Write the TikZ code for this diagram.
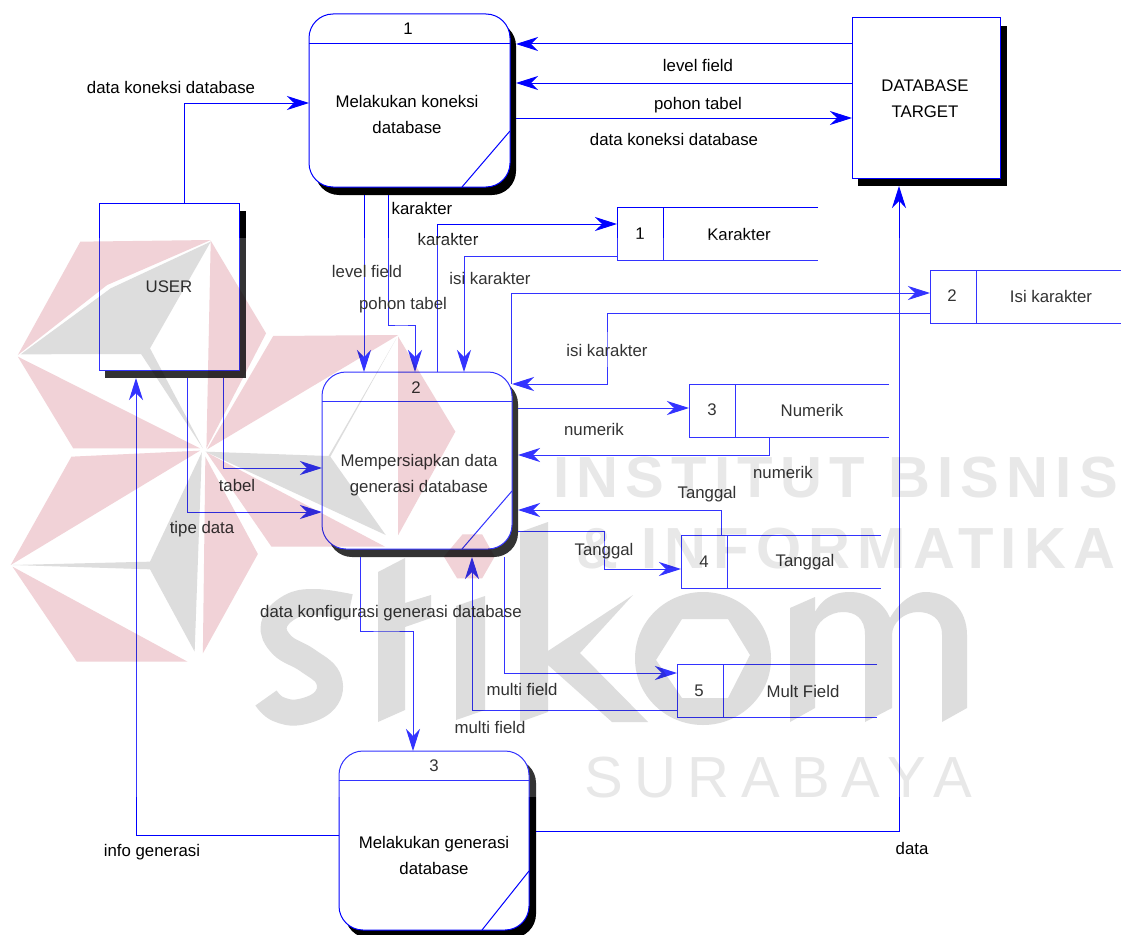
\documentclass[tikz,border=0pt]{standalone}
\usepackage{fontspec}
\setmainfont{Liberation Sans}
\newfontfamily\wmbold[LetterSpace=12.5]{Liberation Sans Bold}
\newfontfamily\wmreg[LetterSpace=20]{Liberation Sans}
\usetikzlibrary{arrows.meta}
\definecolor{flowblue}{RGB}{0,0,255}
\definecolor{wmred}{RGB}{241,210,215}
\definecolor{wmgray}{RGB}{221,221,221}
\definecolor{wmtext}{RGB}{232,232,232}
\newcommand{\lblfont}{\fontsize{16.8}{26}\selectfont}
\tikzset{
  x=1pt,y=-1pt,
  every node/.style={inner sep=0pt,outer sep=0pt},
  sz/.style 2 args={minimum width=#1pt,minimum height=#2pt},
  proc/.style={draw=flowblue,fill=white,line width=1pt,rounded corners=24pt},
  procshadow/.style={fill=black,rounded corners=24pt},
  extbox/.style={draw=flowblue,fill=white,line width=1pt},
  extshadow/.style={fill=black},
  storebox/.style={fill=white},
  partline/.style={draw=flowblue,line width=1pt},
  flow/.style={draw=flowblue,line width=1pt,-{Stealth[length=22pt,width=14pt,inset=7pt]}},
  lbl/.style={font=\lblfont,align=center,text=black},
  wm/.style={blend mode=multiply}
}
\begin{document}
\begin{tikzpicture}
\useasboundingbox (0,0) rectangle (1121,934);
\clip (0,0) rectangle (1121,934);
\fill[white] (0,0) rectangle (1121,934);

% shadows
\node[procshadow,sz={201}{173}] (p1s) at (415.5,108.5) {};
\node[procshadow,sz={190}{177}] (p2s) at (423,468.5) {};
\node[procshadow,sz={191}{179}] (p3s) at (440.5,848.5) {};
\node[extshadow,sz={141}{167}] (us) at (175.5,294.5) {};
\node[extshadow,sz={149}{160}] (ds) at (932.5,106) {};

% stores (white grounds)
\node[storebox,sz={201}{53}] (s1) at (717.5,233.5) {};
\node[storebox,sz={191}{53}] (s2) at (1025.5,296.5) {};
\node[storebox,sz={200}{53}] (s3) at (789,410.5) {};
\node[storebox,sz={200}{53}] (s4) at (781,561.5) {};
\node[storebox,sz={200}{53}] (s5) at (777,690.5) {};

% boxes
\node[proc,sz={201}{173}] (p1) at (409.5,100.5) {};
\node[proc,sz={190}{177}] (p2) at (417,460.5) {};
\node[proc,sz={190}{179}] (p3) at (434,840.5) {};
\node[extbox,sz={140}{167}] (user) at (169,286.5) {};
\node[extbox,sz={148}{160}] (db) at (926,98) {};

% process partitions
\draw[partline] (p1.west |- 0,44) -- (p1.east |- 0,44);
\draw[partline] (p2.west |- 0,401) -- (p2.east |- 0,401);
\draw[partline] (p3.west |- 0,780) -- (p3.east |- 0,780);
\draw[partline] (p1.south -| 462,0) -- (p1.east |- 0,131);
\draw[partline] (p2.south -| 462,0) -- (p2.east |- 0,491);
\draw[partline] (p3.south -| 482,0) -- (p3.east |- 0,871);

% store outlines
\draw[partline] (s1.north east) -- (s1.north west) -- (s1.south west) -- (s1.south east);
\draw[partline] (s1.north -| 663,0) -- (s1.south -| 663,0);
\draw[partline] (s2.north east) -- (s2.north west) -- (s2.south west) -- (s2.south east);
\draw[partline] (s2.north -| 976,0) -- (s2.south -| 976,0);
\draw[partline] (s3.north east) -- (s3.north west) -- (s3.south west) -- (s3.south east);
\draw[partline] (s3.north -| 735,0) -- (s3.south -| 735,0);
\draw[partline] (s4.north east) -- (s4.north west) -- (s4.south west) -- (s4.south east);
\draw[partline] (s4.north -| 727,0) -- (s4.south -| 727,0);
\draw[partline] (s5.north east) -- (s5.north west) -- (s5.south west) -- (s5.south east);
\draw[partline] (s5.north -| 723,0) -- (s5.south -| 723,0);

% connectors
\draw[flow] (user.north -| 184,0) |- (p1.west |- 0,103);
\draw[flow] (db.west |- 0,44) -- (p1s.east |- 0,44);
\draw[flow] (db.west |- 0,83) -- (p1s.east |- 0,83);
\draw[flow] (p1s.east |- 0,118) -- (db.west |- 0,118);
\draw[flow] (p1s.south -| 364,0) -- (p2.north -| 364,0);
\draw[flow] (p1s.south -| 388,0) |- (401,325) -| (p2.north -| 415,0);
\draw[flow] (p2.north -| 437.5,0) |- (s1.west |- 0,224);
\draw[flow] (s1.west |- 0,256) -| (p2.north -| 464,0);
\draw[flow] (p2.east |- 0,384) ++(-1,0) |- (s2.west |- 0,293);
\draw[flow] (s2.west |- 0,313) -| (607,350) |- (p2.east |- 0,384);
\draw[flow] (p2s.east |- 0,408) -- (s3.west |- 0,408);
\draw[flow] (s3.south -| 769,0) |- (p2s.east |- 0,455);
\draw[flow] (s4.north -| 721,0) |- (p2s.east |- 0,510);
\draw[flow] (p2s.east |- 0,531) -| (604,550) |- (s4.west |- 0,569);
\draw[flow] (p2s.south -| 504,0) |- (s5.west |- 0,673);
\draw[flow] (s5.west |- 0,710) -| (p2s.south -| 472,0);
\draw[flow] (p2s.south -| 360,0) |- (386,631) -| (p3.north -| 413,0);
\draw[flow] (us.south -| 187,0) |- (p2.west |- 0,512);
\draw[flow] (us.south -| 223,0) |- (p2.west |- 0,468);
\draw[flow] (p3.west |- 0,835) -| (us.south -| 136,0);
\draw[flow] (p3s.east |- 0,831) -| (ds.south -| 899,0);

% box texts
\node[lbl] (t1n) at (408,29) {1};
\node[lbl] (t1) at (407,114) {Melakukan koneksi\\database};
\node[lbl] (t2n) at (416,388) {2};
\node[lbl] (t2) at (419,475) {Mempersiapkan data\\generasi database};
\node[lbl] (t3n) at (434,766) {3};
\node[lbl] (t3) at (434,855) {Melakukan generasi\\database};
\node[lbl] (tu) at (169,287) {USER};
\node[lbl] (td) at (925,99) {DATABASE\\TARGET};
\node[lbl] (n1) at (640,234) {1};
\node[lbl] (k1) at (739,234) {Karakter};
\node[lbl] (n2) at (952,296) {2};
\node[lbl] (k2) at (1051,296) {Isi karakter};
\node[lbl] (n3) at (712,410) {3};
\node[lbl] (k3) at (812,410) {Numerik};
\node[lbl] (n4) at (704,562) {4};
\node[lbl] (k4) at (805,562) {Tanggal};
\node[lbl] (n5) at (699,691) {5};
\node[lbl] (k5) at (803,691) {Mult Field};

% flow labels
\node[lbl] (a1) at (171,87) {data koneksi database};
\node[lbl] (a2) at (698,65) {level field};
\node[lbl] (a3) at (698,105) {pohon tabel};
\node[lbl] (a4) at (674,139) {data koneksi database};
\node[lbl] (a5) at (367,271) {level field};
\node[lbl] (a6) at (403,305) {pohon tabel};
\node[lbl] (a7) at (422,208) {karakter};
\node[lbl] (a8) at (448,239) {karakter};
\node[lbl] (a9) at (490,278) {isi karakter};
\node[lbl] (a10) at (607,350) {isi karakter};
\node[lbl] (a11) at (594,429) {numerik};
\node[lbl] (a12) at (783,472) {numerik};
\node[lbl] (a13) at (707,494) {Tanggal};
\node[lbl] (a14) at (604,551) {Tanggal};
\node[lbl] (a15) at (391,613) {data konfigurasi generasi database};
\node[lbl] (a16) at (522,689) {multi field};
\node[lbl] (a17) at (490,727) {multi field};
\node[lbl] (a18) at (237,485) {tabel};
\node[lbl] (a19) at (202,529) {tipe data};
\node[lbl] (a20) at (152,852) {info generasi};
\node[lbl] (a21) at (912,848) {data};

% watermark veil
\fill[white,opacity=.2] (0,238) rectangle (1121,797);

% watermark logo
\begin{scope}[wm]
  \begin{scope}[shift={(0,200)},x=0.35714pt,y=-0.33333pt]
    \fill[wmred] (225,125) -- (590,120) -- (300,255) -- (50,465) -- cycle;
    \fill[wmred] (50,470) -- (560,745) -- (205,745) -- cycle;
    \fill[wmred] (590,122) -- (745,400) -- (578,745) -- cycle;
    \fill[wmred] (765,408) -- (1115,405) -- (580,748) -- cycle;
    \fill[wmred] (1115,410) -- (1275,695) -- (1115,1005) -- cycle;
    \fill[wmred] (578,757) -- (1078,1040) -- (760,1040) -- cycle;
    \fill[wmred] (575,770) -- (722,1062) -- (568,1360) -- cycle;
    \fill[wmred] (200,770) -- (560,752) -- (30,1095) -- cycle;
    \fill[wmred] (35,1100) -- (525,1385) -- (215,1385) -- cycle;
    \fill[wmred] (1295,1003) -- (1350,1003) -- (1385,1070) -- (1350,1135) -- (1280,1135) -- (1243,1070) -- cycle;
    \fill[wmgray] (590,125) -- (420,445) -- (568,745) -- (395,462) -- (58,463) -- (310,265) -- cycle;
    \fill[wmgray] (575,755) -- (920,768) -- (1110,415) -- (925,770) -- (1080,1005) -- cycle;
    \fill[wmgray] (565,757) -- (420,1085) -- (35,1095) -- (420,1108) -- (545,1355) -- cycle;
  \end{scope}
  % s
  \draw[wmgray,line width=26pt] plot[smooth,tension=.7] coordinates {(350,607) (315,602) (290,607) (274,625) (282,645) (307,660) (328,678) (325,700) (300,712) (278,709) (266,698)};
  % t
  \fill[wmgray] (378,572) -- (405,558) -- (405,603) -- (431,595) -- (431,618) -- (405,627) -- (405,710) -- (378,722) -- cycle;
  % i
  \fill[wmgray] (456,606) -- (485,596) -- (485,710) -- (456,720) -- cycle;
  % k
  \fill[wmgray] (520,532) -- (548,522) -- (548,651) -- (633,595) -- (580,653) -- (648,722) -- (612,722) -- (548,665) -- (548,712) -- (520,722) -- cycle;
  % o
  \fill[wmgray,even odd rule] (703,658.5) ellipse [x radius=68,y radius=66.5]
     (682,619) -- (728,619) -- (750,655) -- (728,698) -- (682,698) -- (656,660) -- cycle;
  % m
  \fill[wmgray] (790,608) -- (815,597) -- (815,612) .. controls (825,594) and (840,592) .. (850,592) .. controls (870,592) and (885,605) .. (890,618) .. controls (900,600) and (915,592) .. (925,592) .. controls (950,592) and (967,610) .. (967,635) -- (967,708) -- (942,722) -- (942,635) .. controls (942,618) and (930,612) .. (918,612) .. controls (905,612) and (892,622) .. (892,635) -- (892,708) -- (865,722) -- (865,635) .. controls (865,618) and (855,612) .. (843,612) .. controls (830,612) and (815,622) .. (815,635) -- (815,708) -- (790,722) -- cycle;
  % lettering
  \node[text=wmtext,font=\wmbold\fontsize{58}{58}\selectfont,anchor=base west] (w1) at (553,497) {INSTITUT BISNIS};
  \node[text=wmtext,font=\wmbold\fontsize{58}{58}\selectfont,anchor=base west] (w2) at (576,568) {\& INFORMATIKA};
  \node[text=wmtext,font=\wmreg\fontsize{58}{58}\selectfont,anchor=base west] (w3) at (584,797) {SURABAYA};
\end{scope}
\end{tikzpicture}
\end{document}
